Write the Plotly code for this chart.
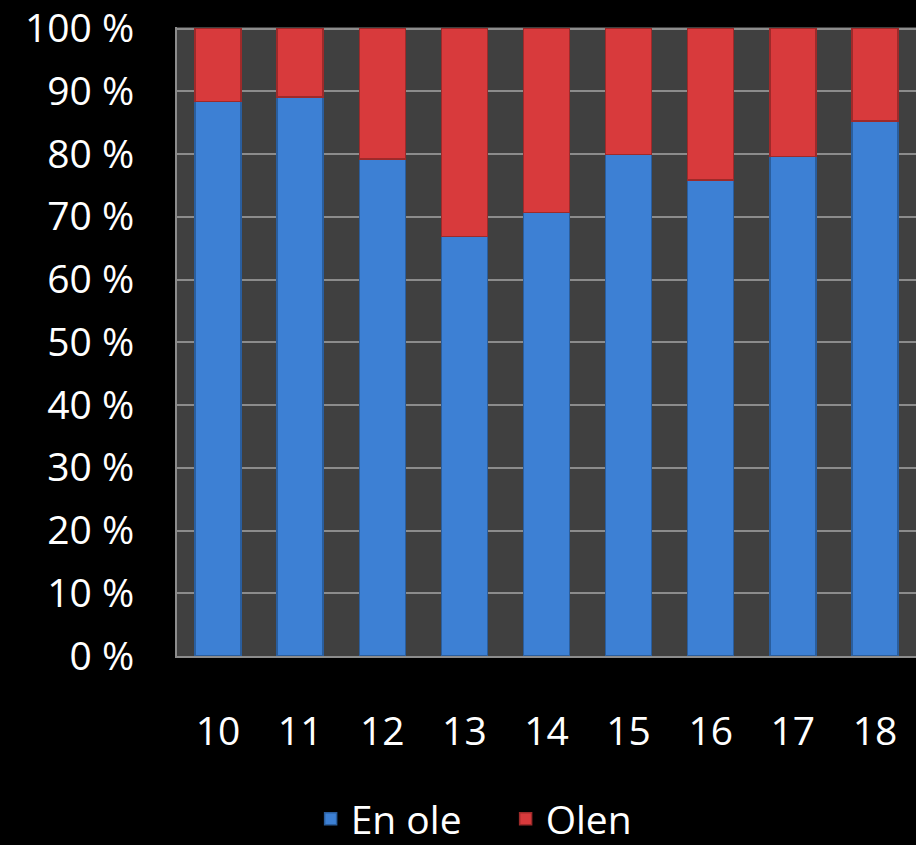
import plotly.graph_objects as go

categories = ["10", "11", "12", "13", "14", "15", "16", "17", "18"]
en_ole = [88.4, 89.1, 79.2, 66.9, 70.7, 79.9, 75.9, 79.6, 85.3]
olen = [11.6, 10.9, 20.8, 33.1, 29.3, 20.1, 24.1, 20.4, 14.7]
y_tickvals = [0, 10, 20, 30, 40, 50, 60, 70, 80, 90, 100]
y_ticktext = ["0 %", "10 %", "20 %", "30 %", "40 %", "50 %", "60 %", "70 %", "80 %", "90 %", "100 %"]

FONT = "Open Sans"

fig = go.Figure()
fig.add_trace(go.Bar(
    x=categories, y=en_ole, name="En ole",
    marker=dict(color="#3D80D4", line=dict(color="#2A5E9E", width=1.5)),
))
fig.add_trace(go.Bar(
    x=categories, y=olen, name="Olen",
    marker=dict(color="#D83A3C", line=dict(color="#9E2A2A", width=1.5)),
))

fig.update_layout(
    width=916, height=845,
    barmode="stack", bargap=0.44,
    paper_bgcolor="#000000", plot_bgcolor="#404040",
    margin=dict(l=177, r=0, t=25, b=189),
    font=dict(family=FONT, color="#FFFFFF", size=39),
    showlegend=True,
    legend=dict(
        orientation="h", xref="container", yref="container",
        x=0.552, xanchor="center", y=0.031, yanchor="middle",
        font=dict(size=39, color="#FFFFFF"), traceorder="normal",
        bgcolor="rgba(0,0,0,0)", itemwidth=30,
        entrywidth=150, entrywidthmode="pixels",
    ),
)
fig.update_xaxes(
    type="category", showgrid=False, showline=True, linecolor="#8C8C8C", linewidth=2,
    ticks="", ticklabelstandoff=40, tickfont=dict(size=39, color="#FFFFFF"),
)
fig.update_yaxes(
    range=[0, 100.25], tickvals=y_tickvals, ticktext=y_ticktext,
    showgrid=True, gridcolor="#8C8C8C", gridwidth=2,
    showline=True, linecolor="#8C8C8C", linewidth=2,
    ticks="", ticklabelstandoff=33, tickfont=dict(size=39, color="#FFFFFF"),
    ticklabeloverflow="allow", zeroline=False,
)

fig.write_html(
    "out.html",
    config={"displayModeBar": False},
    post_script="document.body.style.margin='0';document.body.style.background='#000';",
)
